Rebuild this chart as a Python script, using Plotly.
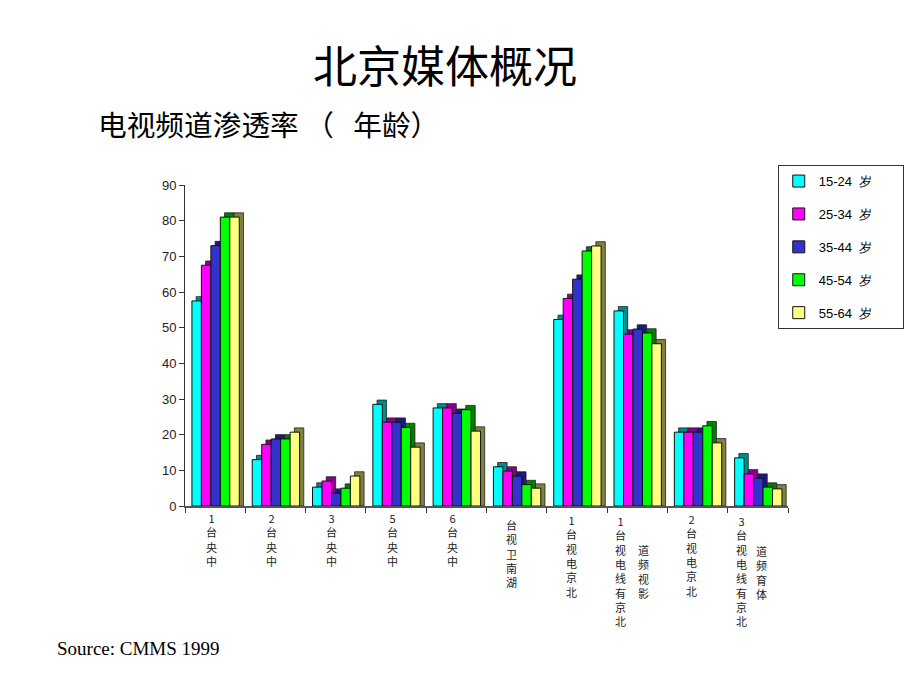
import plotly.graph_objects as go

# ---------------- data ----------------
categories = ["中央1台", "中央2台", "中央3台", "中央5台", "中央6台",
              "湖南卫视台", "北京电视1台", "北京有线电视台1影视频道",
              "北京电视2台", "北京有线电视台3体育频道"]
# tick label columns, as displayed (stacked vertical text)
label_cols = [
    ["1台央中"], ["2台央中"], ["3台央中"], ["5台央中"], ["6台央中"],
    ["台视卫南湖"], ["1台视电京北"], ["1台视电线有京北", "道频视影"],
    ["2台视电京北"], ["3台视电线有京北", "道频育体"],
]
series_names = ["15-24  岁", "25-34  岁", "35-44  岁", "45-54  岁", "55-64  岁"]
s15_24 = [57.5, 13.0, 5.3, 28.5, 27.5, 11.0, 52.3, 54.7, 20.7, 13.5]
s25_34 = [67.5, 17.3, 7.0, 23.5, 27.5, 9.8, 58.2, 48.2, 20.7, 9.0]
s35_44 = [73.0, 18.8, 3.6, 23.5, 26.0, 8.4, 63.6, 49.6, 20.7, 7.8]
s45_54 = [81.0, 18.8, 5.0, 22.0, 27.0, 6.0, 71.5, 48.5, 22.5, 5.3]
s55_64 = [81.0, 20.7, 8.4, 16.5, 21.0, 5.0, 72.9, 45.5, 17.7, 4.8]
series_values = [s15_24, s25_34, s35_44, s45_54, s55_64]
y_ticks = [0, 10, 20, 30, 40, 50, 60, 70, 80, 90]

# ---------------- styles ----------------
front_colors = ["#00FFFF", "#FF00FF", "#3333CC", "#00FF00", "#FFFF80"]
side_colors = ["#008B8B", "#8B008B", "#1A1A80", "#008000", "#808040"]
bar_w = 0.157
first_off = -0.385
depth_x = 0.07
depth_y = 1.2

fig = go.Figure()
for i, (name, vals) in enumerate(zip(series_names, series_values)):
    off = first_off + i * bar_w
    fig.add_trace(go.Bar(
        x=categories, y=[v + depth_y for v in vals], base=0,
        offset=off + depth_x, width=bar_w,
        marker=dict(color=side_colors[i], line=dict(color="#222", width=0.8)),
        showlegend=False, hoverinfo="skip"))
    fig.add_trace(go.Bar(
        x=categories, y=vals, name=name.replace(" ", "\u00a0") + "\u00a0" * 7,
        legendgroup=name,
        offset=off, width=bar_w,
        marker=dict(color=front_colors[i], line=dict(color="#111", width=1))))

# label placement (pixel offsets): per category, per column (xshift, top drop)
label_pos = [
    [(-4, 3)], [(-4, 3)], [(-4, 3)], [(-4, 3)], [(-4, 3)],
    [(-5, 10)], [(-5, 5)], [(-17, 6), (6, 35)],
    [(-6, 4)], [(-16, 6), (4, 36)],
]
annotations = []
for cat, cols, poss in zip(categories, label_cols, label_pos):
    for text, (xs, drop) in zip(cols, poss):
        annotations.append(dict(
            x=cat, xref="x", y=0, yref="paper", yanchor="top",
            xanchor="center", text="<br>".join(list(text)), showarrow=False,
            xshift=xs, yshift=-drop, borderpad=0,
            font=dict(family="Noto Sans CJK SC", size=11, color="#222")))

annotations.append(dict(
    text="北京媒体概况", xref="paper", yref="paper", x=0.431, y=1.0,
    xanchor="center", yanchor="middle", yshift=121, showarrow=False,
    font=dict(family="Noto Sans CJK SC", size=44, color="black")))
annotations.append(dict(
    text="电视频道渗透率 （   年龄）".replace(" ", "\u00a0"), xref="paper", yref="paper",
    x=-0.1476, xanchor="left", y=1.0, yanchor="middle", yshift=62,
    showarrow=False,
    font=dict(family="Noto Sans CJK SC", size=28.7, color="black")))
annotations.append(dict(
    text="Source: CMMS 1999", xref="paper", yref="paper",
    x=-0.2156, xanchor="left", y=0, yanchor="middle", yshift=-142,
    showarrow=False,
    font=dict(family="Liberation Serif", size=19, color="black")))

fig.update_layout(
    width=920, height=690,
    margin=dict(l=177, r=140, t=177, b=192),
    paper_bgcolor="white", plot_bgcolor="white",
    barmode="overlay",
    showlegend=True,
    legend=dict(x=0.983, y=1.062, xanchor="left", yanchor="top",
                bordercolor="#333", borderwidth=1, bgcolor="white",
                font=dict(family="Arial", size=13, color="black"),
                tracegroupgap=13, traceorder="grouped",
                itemwidth=30),
    xaxis=dict(type="category", categoryorder="array", categoryarray=categories,
               range=[-0.5, 9.5], tickson="boundaries", ticks="outside",
               ticklen=5, tickcolor="#333", showticklabels=False,
               showline=True, linecolor="#555", linewidth=2, showgrid=False,
               zeroline=False),
    yaxis=dict(range=[0, 90], tickvals=y_ticks, ticks="outside", ticklen=5,
               tickcolor="#333", showline=True, linecolor="#333", linewidth=1,
               showgrid=False, zeroline=False,
               tickfont=dict(family="Arial", size=13, color="#222")),
    annotations=annotations,
)

fig.write_html("out.html")
